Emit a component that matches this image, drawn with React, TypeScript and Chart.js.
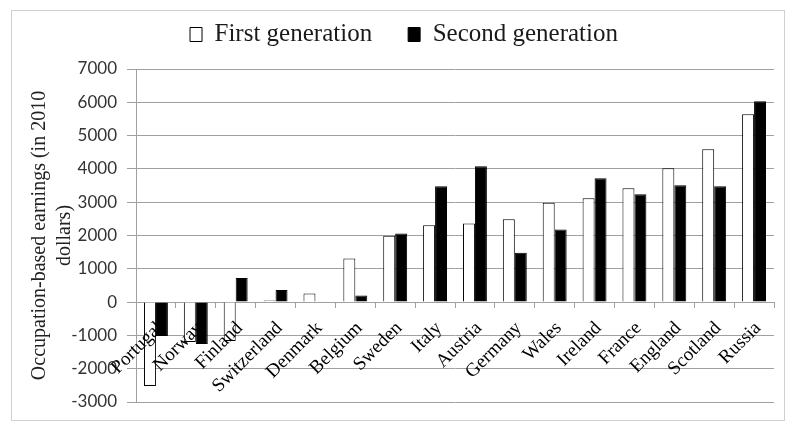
import React, { useEffect, useRef } from "react";
import { Chart, registerables } from "chart.js";

Chart.register(...registerables);

const categories = [
  "Portugal", "Norway", "Finland", "Switzerland", "Denmark", "Belgium", "Sweden", "Italy",
  "Austria", "Germany", "Wales", "Ireland", "France", "England", "Scotland", "Russia",
];
const firstGeneration = [-2520, -1200, -1170, 50, 260, 1310, 1990, 2310, 2360, 2490, 2980, 3120, 3420, 4020, 4590, 5640];
const secondGeneration = [-1020, -1260, 720, 360, 0, 200, 2060, 3480, 4080, 1480, 2180, 3720, 3240, 3510, 3480, 6030];
const seriesNames = ["First generation", "Second generation"];
const yTitle = ["Occupation-based earnings (in 2010", "dollars)"];
const yMin = -3000;
const yMax = 7000;
const yStep = 1000;

export default function App() {
  const ref = useRef<HTMLCanvasElement | null>(null);

  useEffect(() => {
    if (!ref.current) return;
    const chart = new Chart(ref.current, {
      type: "bar",
      data: {
        labels: categories,
        datasets: [
          {
            label: seriesNames[0],
            data: firstGeneration,
            backgroundColor: "#ffffff",
            borderColor: "#000000",
            borderWidth: 1,
            categoryPercentage: 0.6,
            barPercentage: 1.0,
          },
          {
            label: seriesNames[1],
            data: secondGeneration,
            backgroundColor: "#000000",
            borderColor: "#000000",
            borderWidth: 1,
            categoryPercentage: 0.6,
            barPercentage: 1.0,
          },
        ],
      },
      options: {
        animation: false,
        responsive: false,
        maintainAspectRatio: false,
        layout: { padding: { top: -25, left: 22, right: 10, bottom: 18 } },
        plugins: {
          tooltip: { enabled: false },
          title: {
            display: true,
            text: "",
            weight: 500,
            padding: 0,
            font: { size: 10, lineHeight: 1.2 },
          },
          legend: {
            position: "top",
            labels: {
              font: { family: "'Liberation Serif', serif", size: 25 },
              color: "#1a1a1a",
              boxWidth: 12,
              boxHeight: 14,
              padding: 36,
            },
          },
        },
        scales: {
          x: {
            position: { y: 0 } as any,
            afterCalculateLabelRotation: (scale: any) => {
              scale.labelRotation = 45;
            },
            grid: {
              display: true,
              drawOnChartArea: false,
              drawTicks: true,
              tickLength: 5,
              color: "#a0a0a0",
              offset: true,
            },
            border: { display: true, color: "#a0a0a0" },
            ticks: {
              z: 1,
              autoSkip: false,
              minRotation: 45,
              maxRotation: 45,
              padding: 10,
              labelOffset: 4,
              color: "#000000",
              font: { family: "'Liberation Serif', serif", size: 19 },
            },
          },
          y: {
            min: yMin,
            max: yMax,
            afterFit: (scale: any) => {
              scale.width = 102;
            },
            ticks: {
              stepSize: yStep,
              padding: 10,
              color: "#333333",
              font: { family: "Lato", size: 17, lineHeight: 0.8 },
              callback: (v: any) => String(v),
            },
            grid: {
              color: "#a0a0a0",
              tickLength: 9,
            },
            border: { display: true, color: "#a0a0a0" },
            title: {
              display: true,
              text: yTitle,
              color: "#222222",
              padding: { top: -7, bottom: 0 },
              font: { family: "'Liberation Serif', serif", size: 20, lineHeight: 1.25 },
            },
          },
        },
      },
    });
    return () => chart.destroy();
  }, []);

  return (
    <div
      style={{
        width: 772,
        height: 409,
        border: "1px solid #d0d0d0",
        margin: "2px 0 0 3px",
        position: "relative",
      }}
    >
      <canvas ref={ref} width={772} height={409} style={{ display: "block" }} />
    </div>
  );
}
